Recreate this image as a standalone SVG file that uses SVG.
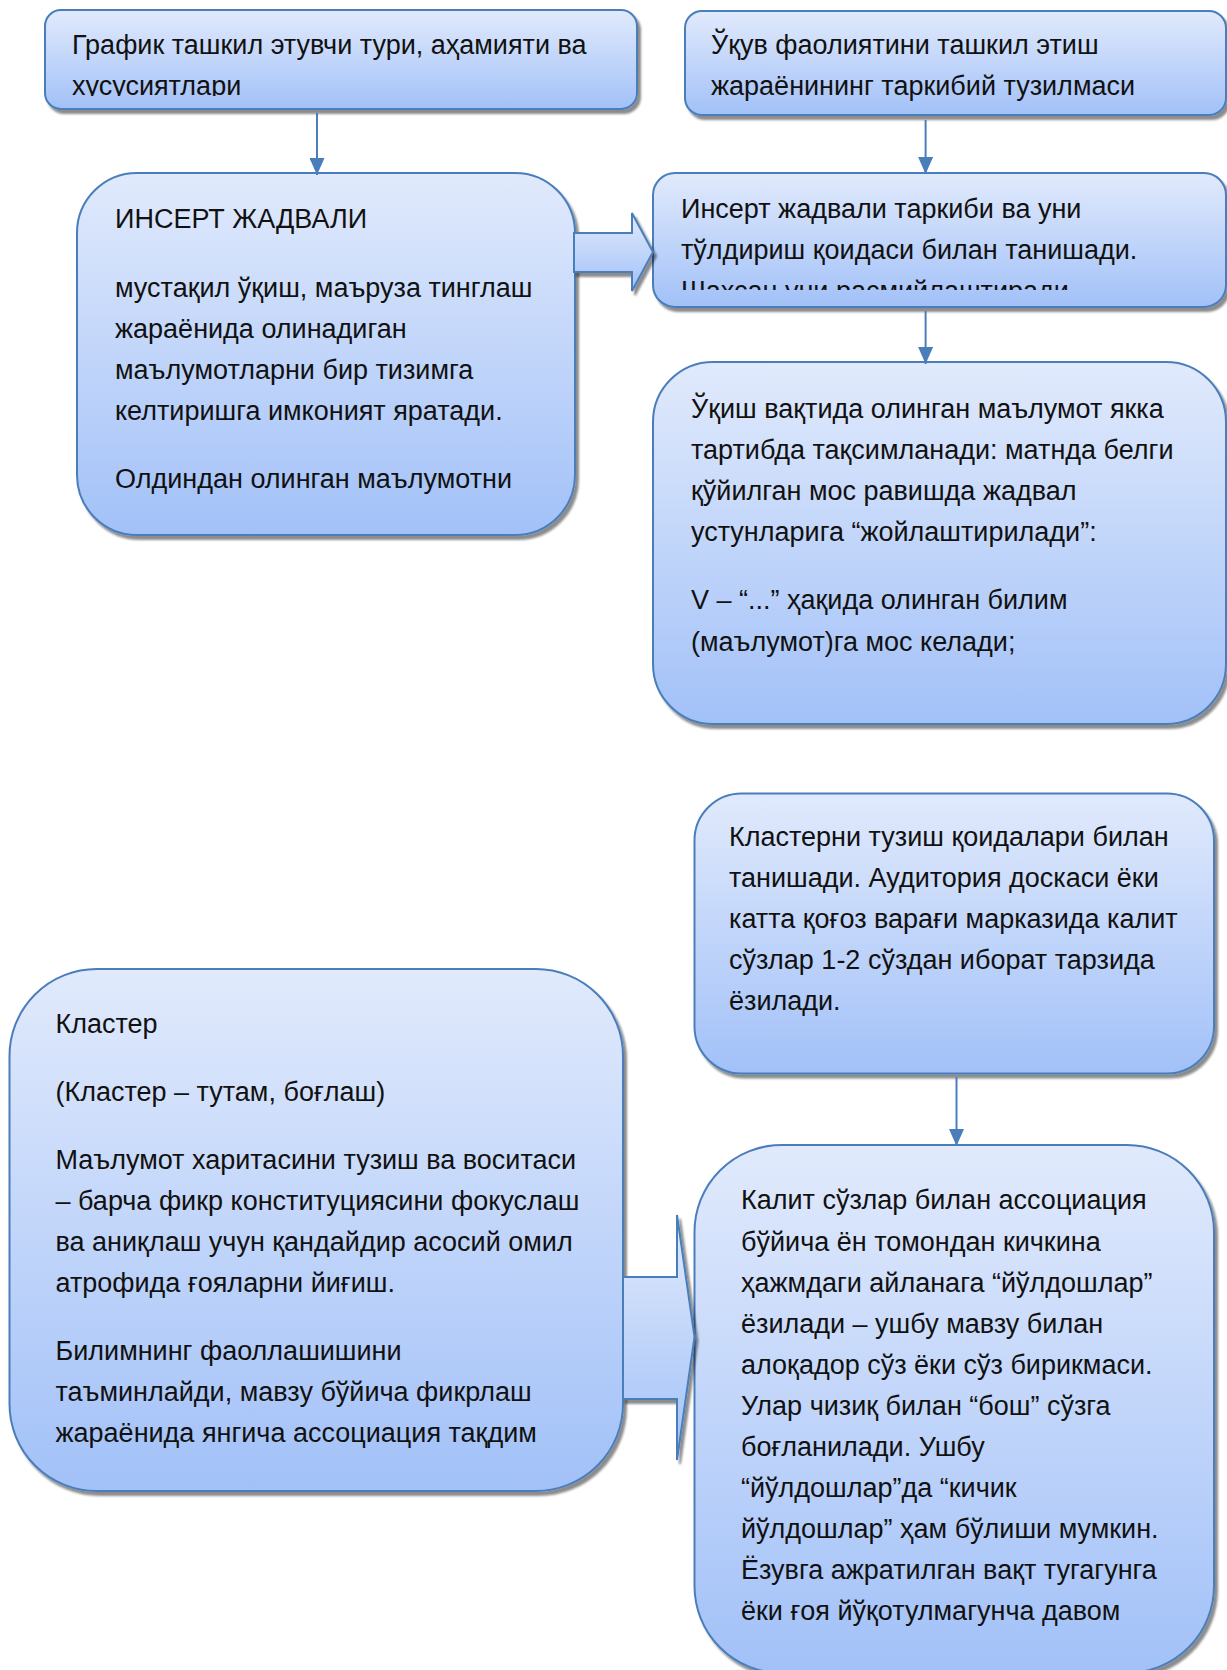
<svg xmlns="http://www.w3.org/2000/svg" width="1227" height="1670" viewBox="0 0 1227 1670">
<defs>
<linearGradient id="g" x1="0" y1="0" x2="0" y2="1">
<stop offset="0" stop-color="#e1eafc"/>
<stop offset="1" stop-color="#a2c1f8"/>
</linearGradient>
<filter id="sh" x="-5%" y="-5%" width="112%" height="115%">
<feDropShadow dx="3" dy="4" stdDeviation="1.2" flood-color="#000" flood-opacity="0.45"/>
</filter>
<marker id="ah" markerUnits="userSpaceOnUse" markerWidth="17" markerHeight="15" refX="17" refY="7.5" orient="auto">
<path d="M0,0 L17,7.5 L0,15 z" fill="#4a7ebb"/>
</marker>
<clipPath id="clipA"><rect x="45" y="10" width="592" height="86"/></clipPath>
<clipPath id="clipD"><rect x="653" y="173" width="574" height="117"/></clipPath>
</defs>
<style>
.box{fill:url(#g);stroke:#4a7ebb;stroke-width:2;filter:url(#sh)}
.t{font-family:"Liberation Sans",Arial,sans-serif;font-size:27px;fill:#111}
.ln{stroke:#4a7ebb;stroke-width:2;fill:none}
.blk{fill:url(#g);stroke:#4a7ebb;stroke-width:2;filter:url(#sh)}
</style>

<g id="nodeA">
<rect class="box" x="45" y="10" width="592" height="99" rx="16"/>
<g clip-path="url(#clipA)">
<text class="t" x="72" y="54">График ташкил этувчи тури, аҳамияти ва</text>
<text class="t" x="72" y="95.1">хусусиятлари</text>
</g>
</g>

<g id="nodeC">
<rect class="box" x="685" y="11" width="541" height="104" rx="17"/>
<text class="t" x="711" y="54">Ўқув фаолиятини ташкил этиш</text>
<text class="t" x="711" y="95.1">жараёнининг таркибий тузилмаси</text>
</g>

<g id="nodeB">
<rect class="box" x="77" y="173" width="498" height="362" rx="60"/>
<text class="t" x="115" y="228">ИНСЕРТ ЖАДВАЛИ</text>
<text class="t" x="115" y="296.6">мустақил ўқиш, маъруза тинглаш</text>
<text class="t" x="115" y="337.7">жараёнида олинадиган</text>
<text class="t" x="115" y="378.8">маълумотларни бир тизимга</text>
<text class="t" x="115" y="419.9">келтиришга имконият яратади.</text>
<text class="t" x="115" y="488">Олдиндан олинган маълумотни</text>
</g>

<g id="nodeD">
<rect class="box" x="653" y="173" width="573" height="134" rx="22"/>
<g clip-path="url(#clipD)">
<text class="t" x="681" y="218">Инсерт жадвали таркиби ва уни</text>
<text class="t" x="681" y="259.1">тўлдириш қоидаси билан танишади.</text>
<text class="t" x="681" y="300.2">Шахсан уни расмийлаштиради</text>
</g>
</g>

<g id="nodeE">
<rect class="box" x="653" y="362" width="573" height="362" rx="60"/>
<text class="t" x="691" y="418">Ўқиш вақтида олинган маълумот якка</text>
<text class="t" x="691" y="459.1">тартибда тақсимланади: матнда белги</text>
<text class="t" x="691" y="500.2">қўйилган мос равишда жадвал</text>
<text class="t" x="691" y="541.3">устунларига “жойлаштирилади”:</text>
<text class="t" x="691" y="609.4">V – “...” ҳақида олинган билим</text>
<text class="t" x="691" y="650.5">(маълумот)га мос келади;</text>
</g>

<g id="nodeF">
<rect class="box" x="694.5" y="793.5" width="519.5" height="280" rx="47"/>
<text class="t" x="729" y="846">Кластерни тузиш қоидалари билан</text>
<text class="t" x="729" y="887.1">танишади. Аудитория доскаси ёки</text>
<text class="t" x="729" y="928.2">катта қоғоз варағи марказида калит</text>
<text class="t" x="729" y="969.3">сўзлар 1-2 сўздан иборат тарзида</text>
<text class="t" x="729" y="1010.4">ёзилади.</text>
</g>

<g id="nodeH">
<rect class="box" x="9.5" y="969" width="613.5" height="522" rx="87"/>
<text class="t" x="55.5" y="1032.6">Кластер</text>
<text class="t" x="55.5" y="1100.7">(Кластер – тутам, боғлаш)</text>
<text class="t" x="55.5" y="1168.8">Маълумот харитасини тузиш ва воситаси</text>
<text class="t" x="55.5" y="1209.9">– барча фикр конституциясини фокуслаш</text>
<text class="t" x="55.5" y="1251">ва аниқлаш учун қандайдир асосий омил</text>
<text class="t" x="55.5" y="1292.1">атрофида ғояларни йиғиш.</text>
<text class="t" x="55.5" y="1360.2">Билимнинг фаоллашишини</text>
<text class="t" x="55.5" y="1401.3">таъминлайди, мавзу бўйича фикрлаш</text>
<text class="t" x="55.5" y="1442.4">жараёнида янгича ассоциация тақдим</text>
</g>

<g id="nodeG">
<rect class="box" x="694.5" y="1145" width="519.5" height="528" rx="87"/>
<text class="t" x="741" y="1209.4">Калит сўзлар билан ассоциация</text>
<text class="t" x="741" y="1250.5">бўйича ён томондан кичкина</text>
<text class="t" x="741" y="1291.6">ҳажмдаги айланага “йўлдошлар”</text>
<text class="t" x="741" y="1332.7">ёзилади – ушбу мавзу билан</text>
<text class="t" x="741" y="1373.8">алоқадор сўз ёки сўз бирикмаси.</text>
<text class="t" x="741" y="1414.9">Улар чизиқ билан “бош” сўзга</text>
<text class="t" x="741" y="1456">боғланилади. Ушбу</text>
<text class="t" x="741" y="1497.1">“йўлдошлар”да “кичик</text>
<text class="t" x="741" y="1538.2">йўлдошлар” ҳам бўлиши мумкин.</text>
<text class="t" x="741" y="1579.3">Ёзувга ажратилган вақт тугагунга</text>
<text class="t" x="741" y="1620.4">ёки ғоя йўқотулмагунча давом</text>
</g>

<g id="connectors">
<line class="ln" x1="317" y1="113" x2="317" y2="175" marker-end="url(#ah)"/>
<line class="ln" x1="925.6" y1="120" x2="925.6" y2="174" marker-end="url(#ah)"/>
<line class="ln" x1="925.6" y1="311" x2="925.6" y2="364" marker-end="url(#ah)"/>
<line class="ln" x1="956.5" y1="1077" x2="956.5" y2="1146" marker-end="url(#ah)"/>
<polygon class="blk" points="574,233 632,233 632,213 653,252 632,291 632,272 574,272"/>
<polygon class="blk" points="623,1277 677,1277 677,1215 694.5,1337 677,1460 677,1399 623,1399"/>
</g>
</svg>
